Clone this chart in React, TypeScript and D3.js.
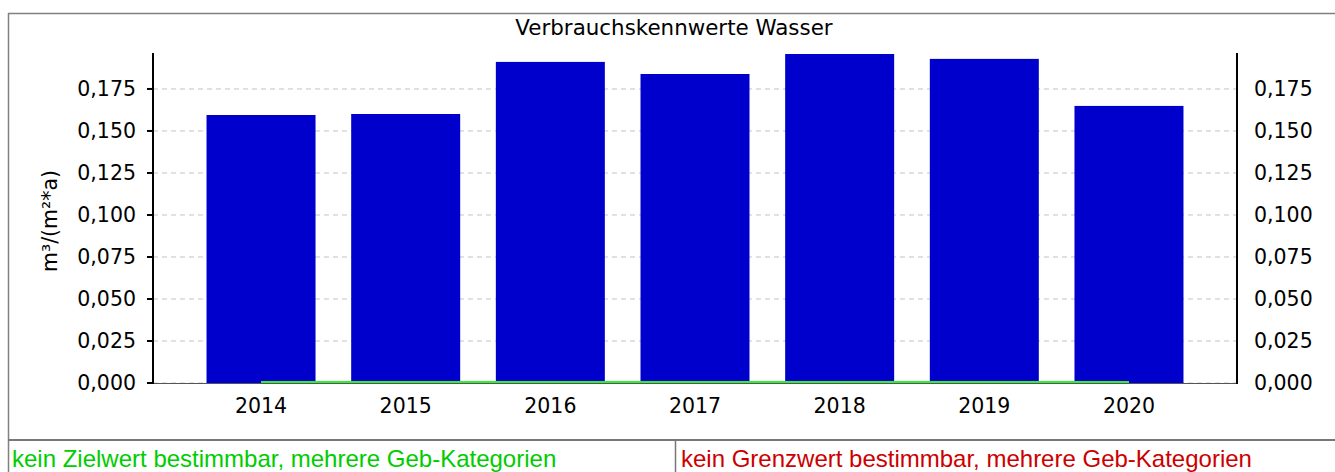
import React from "react"
import * as d3 from "d3"

const years = ["2014", "2015", "2016", "2017", "2018", "2019", "2020"]
const verbrauch = [0.1595, 0.1601, 0.1911, 0.1839, 0.1958, 0.1929, 0.1649]
const zielwert = [0, 0, 0, 0, 0, 0, 0]
const yTicks = [0, 0.025, 0.05, 0.075, 0.1, 0.125, 0.15, 0.175]

const W = 1335
const H = 472
const plot = { left: 153, right: 1237, top: 53, bottom: 383 }

const fmt = (v: number) => d3.format(".3f")(v).replace(".", ",")

const App: React.FC = () => {
  const x = d3
    .scaleBand<string>()
    .domain(years)
    .range([plot.left, plot.right])
    .paddingInner(0.2465)
    .paddingOuter(0.37)

  const y = d3.scaleLinear().domain([0, 0.1964]).range([plot.bottom, plot.top])

  const line = d3
    .line<number>()
    .x((_, i) => (x(years[i]) || 0) + x.bandwidth() / 2)
    .y((d) => y(d) - 1)

  const font = "'DejaVu Sans', sans-serif"
  const sans = "'Liberation Sans', Arial, sans-serif"

  return (
    <svg
      width={W}
      height={H}
      style={{ position: "absolute", left: 0, top: 0, background: "#fff" }}
    >
      {/* frame */}
      <line x1={8} x2={W} y1={13.5} y2={13.5} stroke="#808080" strokeWidth={1.5} />
      <line x1={8.5} x2={8.5} y1={13} y2={H} stroke="#808080" strokeWidth={1.5} />
      <line x1={8} x2={W} y1={440} y2={440} stroke="#777" strokeWidth={2} />
      <line x1={675.5} x2={675.5} y1={440} y2={H} stroke="#777" strokeWidth={1.5} />

      <text x={674} y={35} textAnchor="middle" fontFamily={font} fontSize={21.4} fill="#000">
        Verbrauchskennwerte Wasser
      </text>

      {/* grid */}
      {yTicks.map((t) => (
        <line
          key={t}
          x1={plot.left}
          x2={plot.right}
          y1={y(t)}
          y2={y(t)}
          stroke="#c4c4c4"
          strokeWidth={1}
          strokeDasharray="5,4"
        />
      ))}
      <line x1={plot.left} x2={plot.right} y1={plot.bottom + 0.5} y2={plot.bottom + 0.5} stroke="#555" strokeWidth={1} />

      {/* bars */}
      {verbrauch.map((v, i) => (
        <rect
          key={years[i]}
          x={x(years[i])}
          y={y(v)}
          width={x.bandwidth()}
          height={y(0) - y(v)}
          fill="#0000cc"
        />
      ))}

      <path d={line(zielwert) || ""} fill="none" stroke="#33ee33" strokeWidth={2} />

      {/* axes */}
      <line x1={plot.left} x2={plot.left} y1={plot.top} y2={plot.bottom + 1} stroke="#000" strokeWidth={2} />
      <line x1={plot.right} x2={plot.right} y1={plot.top} y2={plot.bottom + 1} stroke="#000" strokeWidth={2} />
      {yTicks.map((t) => (
        <g key={"t" + t}>
          <line x1={plot.left - 6} x2={plot.left} y1={y(t)} y2={y(t)} stroke="#000" strokeWidth={2} />
          <text
            x={plot.left - 17}
            y={y(t)}
            dy="0.36em"
            textAnchor="end"
            fontFamily={font}
            fontSize={20.5}
            fill="#000"
          >
            {fmt(t)}
          </text>
          <text
            x={plot.right + 17}
            y={y(t)}
            dy="0.36em"
            textAnchor="start"
            fontFamily={font}
            fontSize={20.5}
            fill="#000"
          >
            {fmt(t)}
          </text>
        </g>
      ))}
      {years.map((yr) => (
        <text
          key={"x" + yr}
          x={(x(yr) || 0) + x.bandwidth() / 2}
          y={413}
          textAnchor="middle"
          fontFamily={font}
          fontSize={20.5}
          fill="#000"
        >
          {yr}
        </text>
      ))}
      <text
        transform={`translate(57,${(plot.top + plot.bottom) / 2 + 3}) rotate(-90)`}
        textAnchor="middle"
        fontFamily={font}
        fontSize={20.5}
        fill="#000"
      >
        m³/(m²*a)
      </text>

      <text x={12} y={467} fontFamily={sans} fontSize={24} fill="#00cc00">
        kein Zielwert bestimmbar, mehrere Geb-Kategorien
      </text>
      <text x={681} y={467} fontFamily={sans} fontSize={24} fill="#cc0000">
        kein Grenzwert bestimmbar, mehrere Geb-Kategorien
      </text>
    </svg>
  )
}

export default App
